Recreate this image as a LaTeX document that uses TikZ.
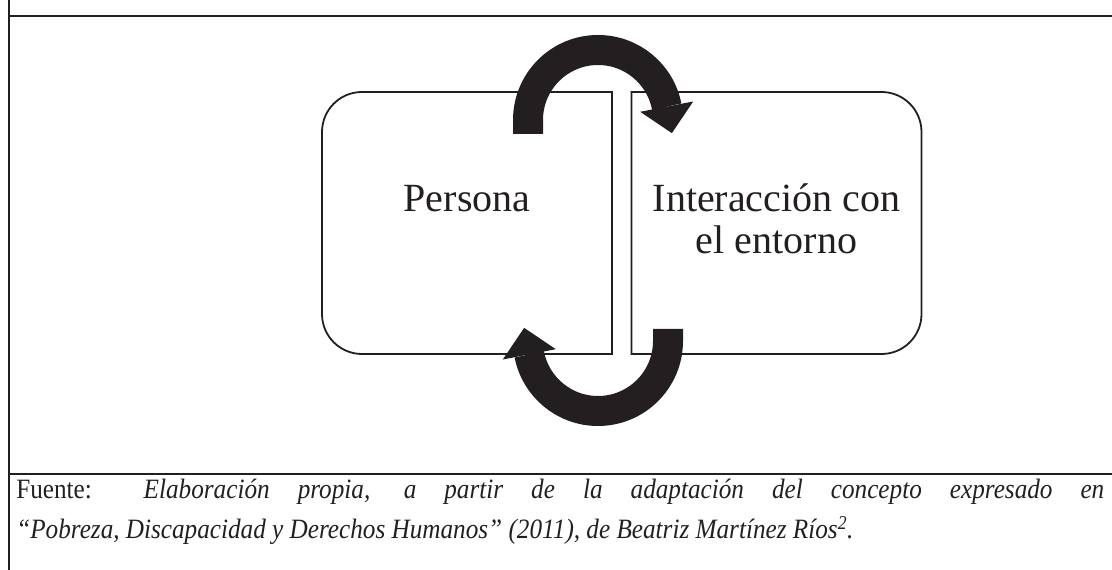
\documentclass[tikz,border=0pt]{standalone}
\usepackage{fontspec}
\setmainfont{Liberation Serif}
\newfontfamily\notefont[FakeStretch=0.9]{Liberation Serif}
\usepackage{xcolor}
\usetikzlibrary{arrows.meta,calc,positioning}
\definecolor{ink}{HTML}{231F20}

\begin{document}
\begin{tikzpicture}[x=1pt,y=1pt,semithick]
	\tikzstyle{rule}=[draw=ink, line width=2pt]
	\tikzstyle{half}=[inner sep=0pt, outer sep=0pt, minimum width=290pt, minimum height=262pt]
	\tikzstyle{edge}=[draw=ink, line width=1.8pt]
	\tikzstyle{word}=[inner sep=0pt, anchor=base, text=ink, font=\fontsize{40}{42}\selectfont]
	\tikzstyle{turn}=[draw=ink, line width=30pt, -{Triangle[width=54pt,length=27pt,line width=0pt]}]
	\tikzstyle{note}=[inner sep=0pt, anchor=base west, text=ink, font=\notefont\fontsize{28}{40}\selectfont]
	\useasboundingbox (0,0) rectangle (1112,570);
	% frame
	\coordinate (ftop) at (9,570);
	\coordinate (fbot) at (9,0);
	\coordinate (head) at (9,554);
	\coordinate (foot) at (9,96);
	\draw[rule] (ftop) -- (fbot);
	\draw[rule] (head) -- (head -| 1112,0);
	\draw[rule] (foot) -- (foot -| 1112,0);
	% the two halves
	\node[half] (persona) at (467,347) {};
	\node[half] (entorno) at (776.5,347) {};
	\draw[edge] (persona.north east) -- ([xshift=40pt]persona.north west)
		arc[start angle=90,end angle=180,radius=40pt] -- ([yshift=40pt]persona.south west)
		arc[start angle=180,end angle=270,radius=40pt] -- (persona.south east) -- cycle;
	\draw[edge] (entorno.north west) -- ([xshift=-40pt]entorno.north east)
		arc[start angle=90,end angle=0,radius=40pt] -- ([yshift=40pt]entorno.south east)
		arc[start angle=0,end angle=-90,radius=40pt] -- (entorno.south west) -- cycle;
	\node[word] (personaword) at ([yshift=11pt]persona.center) {Persona};
	\node[word] (interword) at ([yshift=11pt]entorno.center) {Interacción con};
	\node[word] (entornoword) at ([yshift=-42pt]interword.base) {el entorno};
	% cycle arrows
	\coordinate (topturn) at (598,450);
	\coordinate (botturn) at (598,229);
	\draw[turn] ([xshift=-70pt,yshift=-14pt]topturn) -- ([xshift=-70pt]topturn)
		arc[start angle=180,end angle=11,radius=70pt] -- ++(-79:27);
	\draw[turn] ([xshift=70pt,yshift=12pt]botturn) -- ([xshift=70pt]botturn)
		arc[start angle=0,end angle=-169,radius=70pt] -- ++(101:27);
	% source
	\node[note] (fuente) at (16,71) {\makebox[1088pt][s]{Fuente: \textit{Elaboración propia, a partir de la adaptación del concepto expresado en}}};
	\node[note] (obra) at (16,31) {\textit{“Pobreza, Discapacidad y Derechos Humanos” (2011), de Beatriz Martínez Ríos\textsuperscript{2}.}};
\end{tikzpicture}
\end{document}
